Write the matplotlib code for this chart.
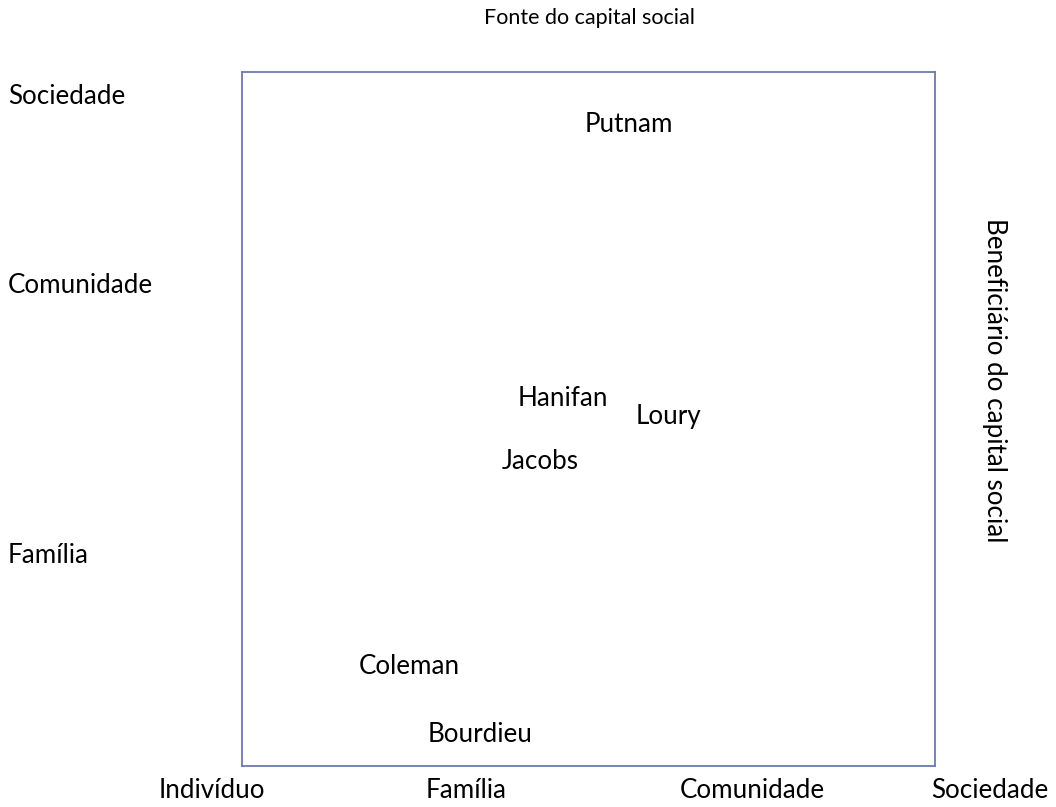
import matplotlib.pyplot as plt

plt.rcParams['font.family'] = ['Lato', 'DejaVu Sans']

# authors placed in the source (x) / beneficiary (y) space, as fractions of the box
authors = ['Putnam', 'Hanifan', 'Loury', 'Jacobs', 'Coleman', 'Bourdieu']
src_pos = [0.558, 0.463, 0.615, 0.431, 0.241, 0.343]
ben_pos = [0.925, 0.530, 0.504, 0.439, 0.144, 0.045]

# axis level labels
x_levels = ['Indivíduo', 'Família', 'Comunidade', 'Sociedade']
x_level_pos = [-0.043, 0.323, 0.736, 1.079]
y_levels = ['Sociedade', 'Comunidade', 'Família']
y_level_pos = [0.964, 0.692, 0.303]

fig = plt.figure(figsize=(10.56, 8.07), dpi=100)
ax = fig.add_axes([242 / 1056, 1 - 766 / 807, 693 / 1056, 694 / 807])
ax.set_xlim(0, 1)
ax.set_ylim(0, 1)
ax.set_xticks([])
ax.set_yticks([])
for s in ax.spines.values():
    s.set_color('#6a7bb0')
    s.set_linewidth(1.3)

fs = 18.7
for name, x, y in zip(authors, src_pos, ben_pos):
    ax.text(x, y, name, ha='center', va='center', fontsize=fs)

for lab, x in zip(x_levels, x_level_pos):
    ax.text(x, -0.036, lab, ha='center', va='center', fontsize=fs, clip_on=False)

for lab, y in zip(y_levels, y_level_pos):
    ax.text(8 / 1056, 1 - (766 - y * 694) / 807, lab, ha='left', va='center',
            fontsize=fs, transform=fig.transFigure)

fig.text(589 / 1056, 1 - 18 / 807, 'Fonte do capital social', ha='center', va='center', fontsize=15.5)
fig.text(995 / 1056, 1 - 380 / 807, 'Beneficiário do capital social', ha='center', va='center',
         rotation=-90, fontsize=fs)

fig.savefig('out.png', dpi=100)
